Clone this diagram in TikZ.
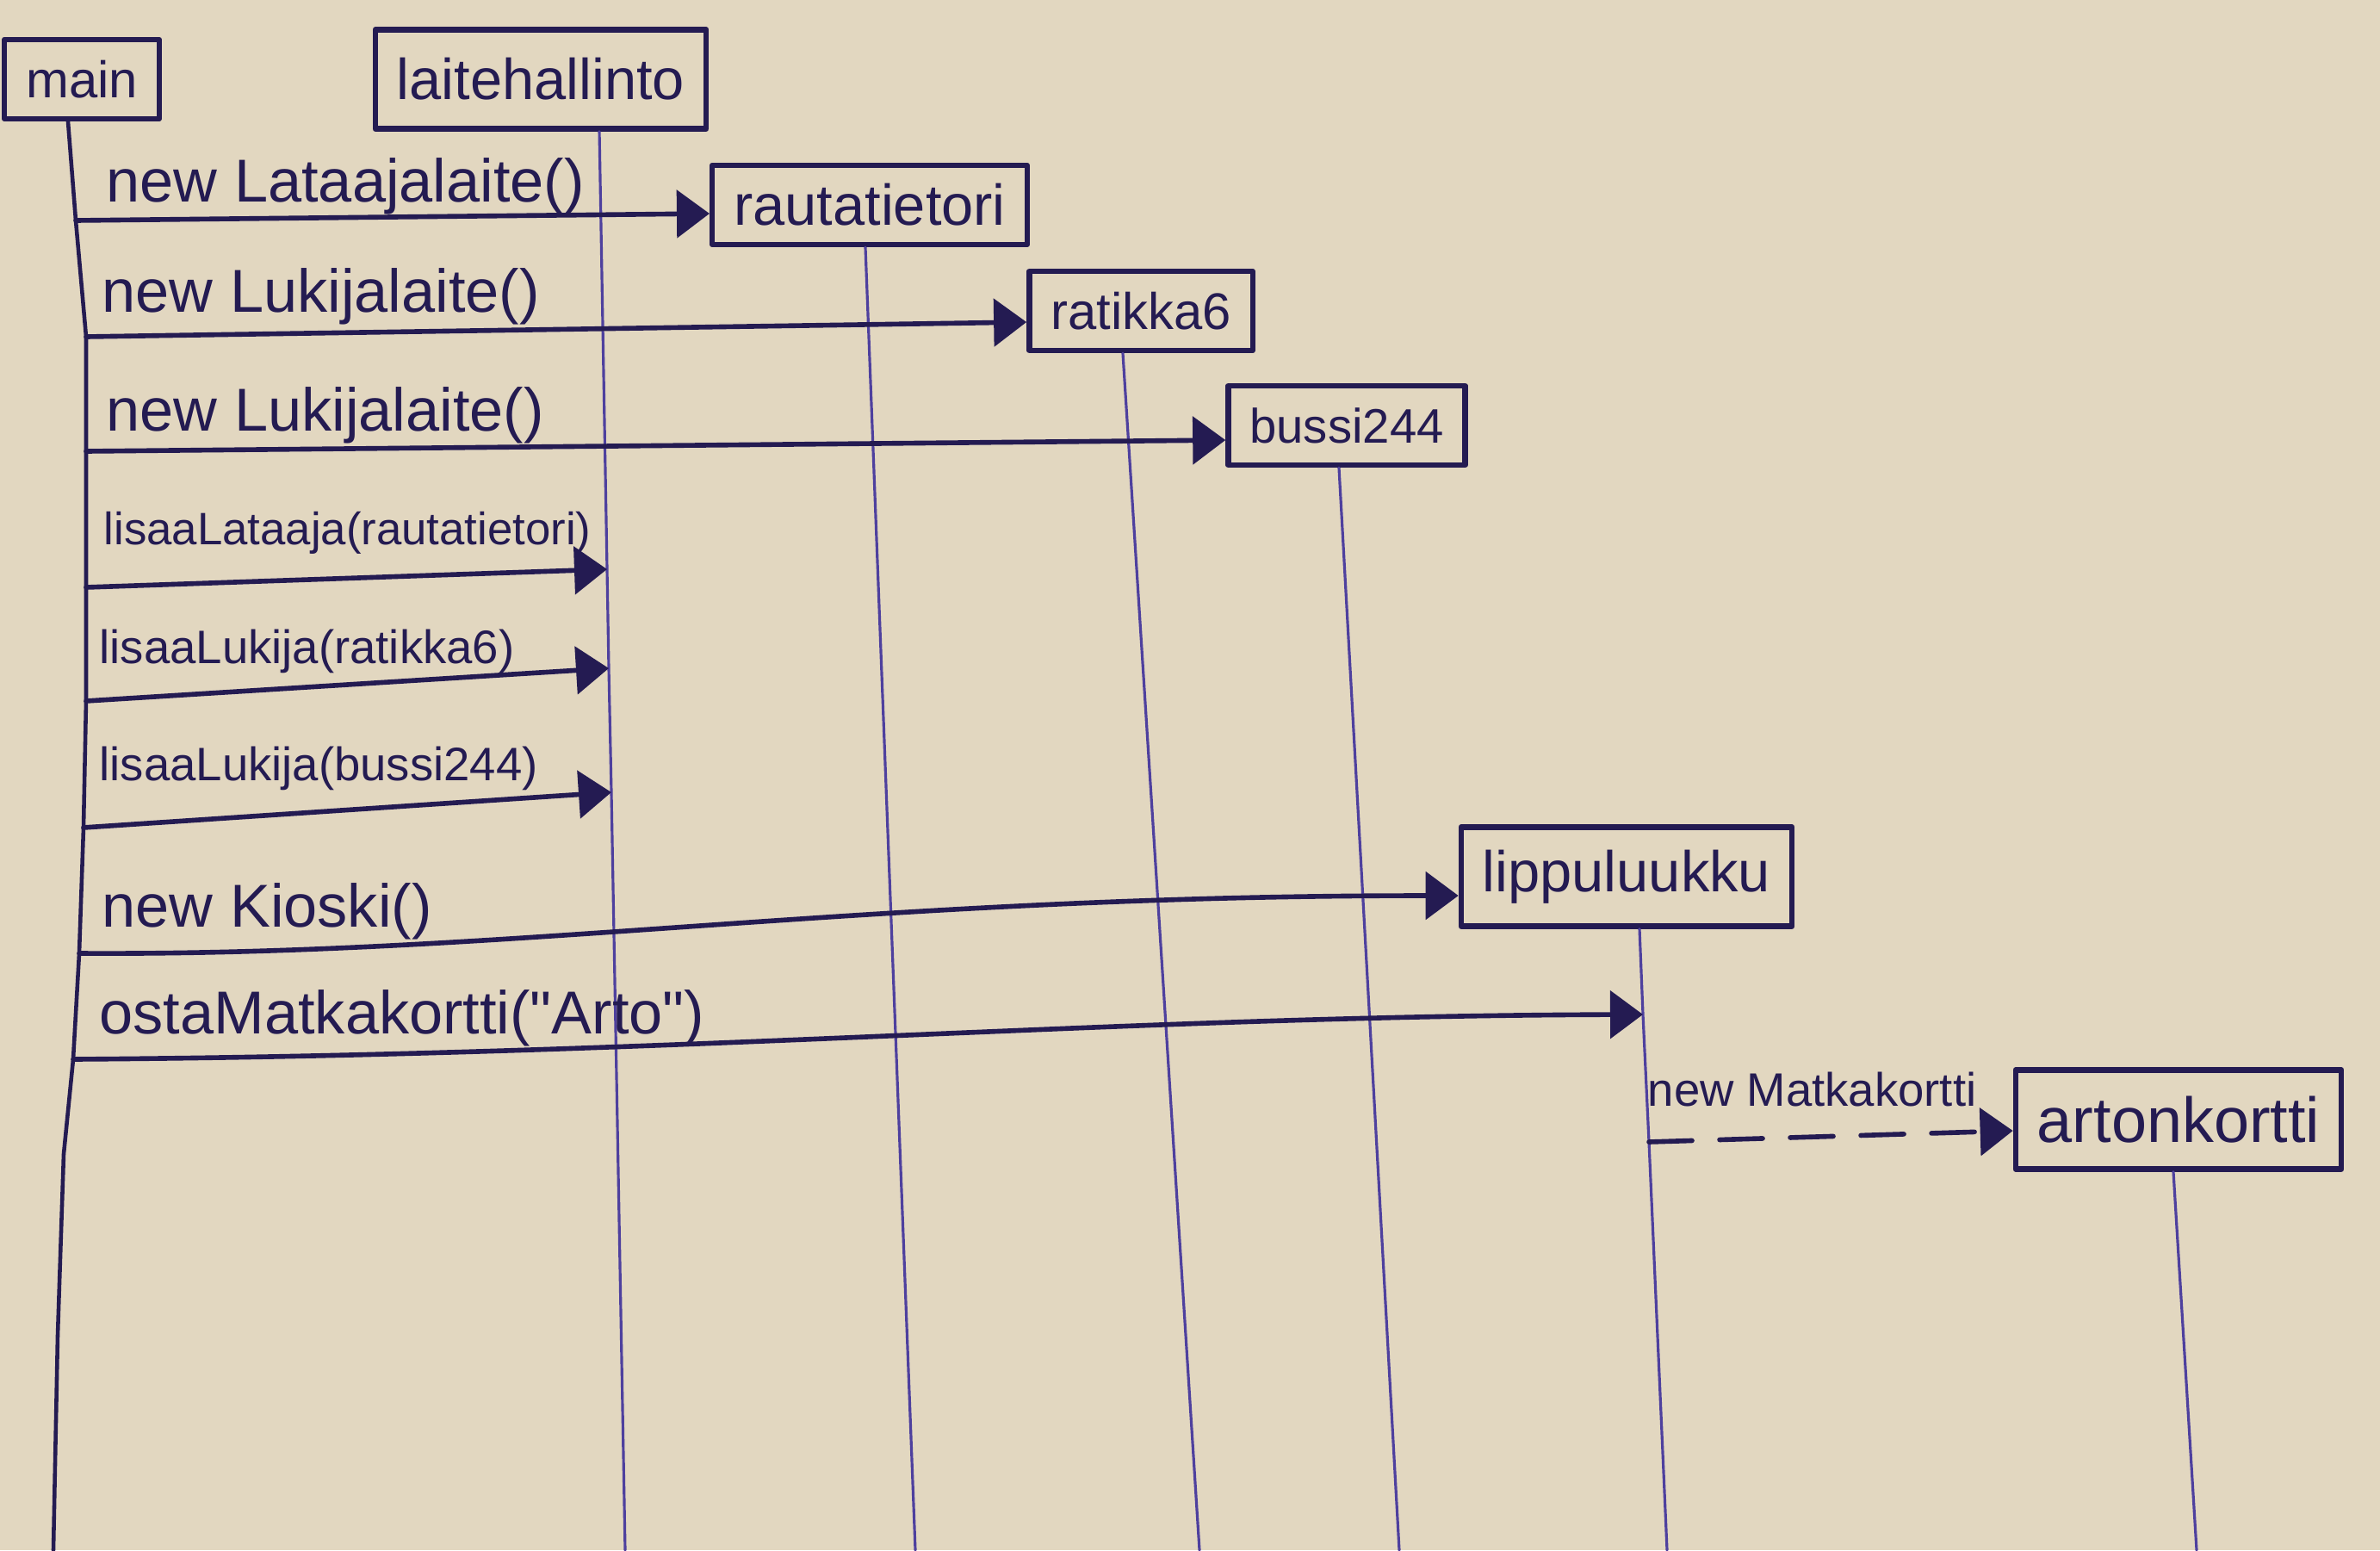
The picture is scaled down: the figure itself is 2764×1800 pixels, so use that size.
\documentclass[tikz,border=0pt]{standalone}
\usepackage{fontspec}
\setmainfont{Liberation Sans}
\usetikzlibrary{arrows.meta,calc}
\definecolor{paper}{RGB}{226,215,192}
\definecolor{ink}{RGB}{36,27,82}
\definecolor{pen}{RGB}{78,64,158}
\begin{document}
\begin{tikzpicture}[x=0.01cm,y=-0.01cm,line join=round,line cap=round,
  obj/.style={draw=ink,line width=1.8pt,text=ink,inner xsep=0.25cm,inner ysep=0.12cm,minimum height=0.92cm,font=\fontsize{19}{22}\selectfont},
  life/.style={draw=pen,line width=0.9pt},
  msg/.style={draw=ink,line width=1.6pt,-{Triangle[length=0.38cm,width=0.55cm]}},
  create/.style={msg,dash pattern=on 0.5cm off 0.32cm},
  lbl/.style={anchor=base west,inner sep=0pt,text=ink,font=\fontsize{20}{24}\selectfont},
  lblsm/.style={lbl,font=\fontsize{15.5}{18}\selectfont}]
\fill[paper] (0,0) rectangle (2764,1800);
\useasboundingbox (0,0) rectangle (2764,1800);
\node[obj,font=\fontsize{17}{20}\selectfont] (main) at (95,92) {main};
\node[obj,minimum height=1.15cm] (laite) at (628,92) {laitehallinto};
\node[obj] (rauta) at (1010,238) {rautatietori};
\node[obj,font=\fontsize{17}{20}\selectfont] (ratikka) at (1325,361) {ratikka6};
\node[obj,font=\fontsize{16}{19}\selectfont] (bussi) at (1564,494) {bussi244};
\node[obj,minimum height=1.15cm] (lippu) at (1889,1018) {lippuluukku};
\node[obj,minimum height=1.15cm,font=\fontsize{21}{24}\selectfont] (arton) at (2530,1300) {artonkortti};
\coordinate (m1) at (88,256);
\coordinate (m2) at (100,391);
\coordinate (m3) at (100,524);
\coordinate (m4) at (100,682);
\coordinate (m5) at (100,814);
\coordinate (m6) at (97,961);
\coordinate (m7) at (92,1107);
\coordinate (m8) at (85,1230);
\coordinate (mainEnd) at (62,1800);
\coordinate (c4) at (705,661);
\coordinate (c5) at (707,776);
\coordinate (c6) at (710,920);
\coordinate (laiteEnd) at (726,1800);
\coordinate (c8) at (1908,1178);
\coordinate (d9) at (1915,1326);
\coordinate (rautaEnd) at (1063,1800);
\coordinate (ratikkaEnd) at (1393,1800);
\coordinate (bussiEnd) at (1625,1800);
\coordinate (lippuEnd) at (1936,1800);
\coordinate (artonEnd) at (2551,1800);
\draw[life,draw=ink,line width=1.3pt] ([xshift=-0.16cm]main.south) -- (m1) -- (m2) -- (m3) -- (m4) -- (m5) -- (m6) -- (m7) -- (m8) -- (74,1340) -- (67,1551) -- (mainEnd);
\draw[life] ([xshift=0.68cm]laite.south) -- (c4) -- (c5) -- (c6) -- (laiteEnd);
\draw[life] ([xshift=-0.05cm]rauta.south) -- (rautaEnd);
\draw[life] ([xshift=-0.21cm]ratikka.south) -- (ratikkaEnd);
\draw[life] ([xshift=-0.09cm]bussi.south) -- (bussiEnd);
\draw[life] ([xshift=0.15cm]lippu.south) -- (c8) -- (d9) -- (lippuEnd);
\draw[life] ([xshift=-0.06cm]arton.south) -- (artonEnd);
\draw[msg] (m1) -- ([yshift=-0.1cm]rauta.west);
\draw[msg] (m2) -- ([yshift=-0.13cm]ratikka.west);
\draw[msg] (m3) -- ([yshift=-0.17cm]bussi.west);
\draw[msg] (m4) -- (c4);
\draw[msg] (m5) -- (c5);
\draw[msg] (m6) -- (c6);
\draw[msg] (m7) .. controls (600,1110) and (1000,1040) .. ([yshift=-0.22cm]lippu.west);
\draw[msg] (m8) .. controls (800,1225) and (1300,1180) .. (c8);
\draw[create] (d9) -- ([yshift=-0.13cm]arton.west);
\node[lbl] (t1) at (123,235) {new Lataajalaite()};
\node[lbl] (t2) at (118,362) {new Lukijalaite()};
\node[lbl] (t3) at (123,500) {new Lukijalaite()};
\node[lblsm,font=\fontsize{15}{18}\selectfont] (t4) at (120,632) {lisaaLataaja(rautatietori)};
\node[lblsm] (t5) at (115,770) {lisaaLukija(ratikka6)};
\node[lblsm] (t6) at (115,906) {lisaaLukija(bussi244)};
\node[lbl] (t7) at (118,1076) {new Kioski()};
\node[lbl] (t8) at (115,1200) {ostaMatkakortti(\textquotedbl Arto\textquotedbl)};
\node[lblsm] (t9) at (1913,1284) {new Matkakortti};
\end{tikzpicture}
\end{document}
